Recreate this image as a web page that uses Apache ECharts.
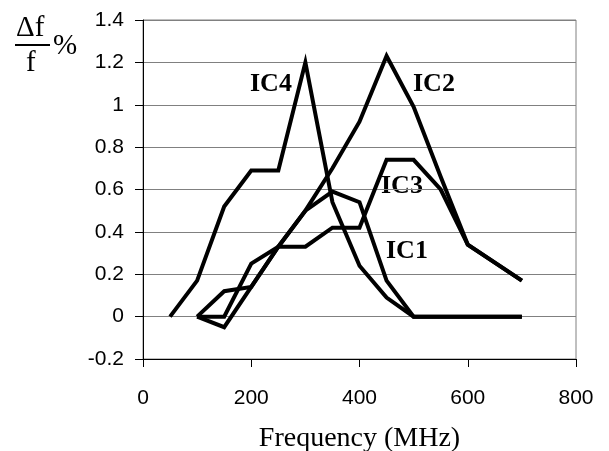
<!DOCTYPE html>
<html>
<head>
<meta charset="utf-8">
<script src="https://cdn.jsdelivr.net/npm/echarts@6/dist/echarts.min.js"></script>
<style>html,body{margin:0;padding:0;background:#fff;}#c{width:609px;height:451px;}</style>
</head>
<body>
<div id="c"></div>
<script>
var freq = [50,100,150,200,250,300,350,400,450,500,550,600,650,700];
var ic1 = [null,0,-0.05,0.14,0.33,0.5,0.59,0.54,0.17,0,0,0,0,0];
var ic2 = [null,0,0.12,0.14,0.33,0.5,0.7,0.92,1.23,0.99,0.66,0.34,0.255,0.17];
var ic3 = [null,0,0,0.25,0.33,0.33,0.42,0.42,0.74,0.74,0.6,0.34,0.255,0.17];
var ic4 = [0,0.17,0.52,0.69,0.69,1.2,0.54,0.24,0.09,0,0,0,0,0];
var seriesNames = ['IC1','IC2','IC3','IC4'];
var seriesVals = [ic1,ic2,ic3,ic4];
var xTicks = {min:0,max:800,interval:200};
var yTicks = {min:-0.2,max:1.4,interval:0.2};

function pairs(vals){
  var out=[];
  for(var i=0;i<freq.length;i++){ if(vals[i]!==null) out.push([freq[i],vals[i]]); }
  return out;
}
var chart = echarts.init(document.getElementById('c'));
var serif = 'Liberation Serif';
var sans = 'Liberation Sans';
chart.setOption({
  animation:false,
  grid:{left:143,right:33,top:20,bottom:92,show:true,borderColor:'#808080',borderWidth:1,
    containLabel:false,outerBoundsMode:'none'},
  xAxis:{type:'value',min:xTicks.min,max:xTicks.max,interval:xTicks.interval,
    axisLine:{show:true,onZero:false,lineStyle:{color:'#000',width:1}},
    axisTick:{show:true,inside:false,length:8,lineStyle:{color:'#000'}},
    axisLabel:{color:'#000',fontFamily:sans,fontSize:21,margin:29},
    splitLine:{show:false},
    name:'Frequency (MHz)',nameLocation:'middle',nameGap:66,
    nameTextStyle:{color:'#000',fontFamily:serif,fontSize:28}},
  yAxis:{type:'value',min:yTicks.min,max:yTicks.max,interval:yTicks.interval,
    axisLine:{show:true,onZero:false,lineStyle:{color:'#000',width:1}},
    axisTick:{show:true,inside:false,length:8,lineStyle:{color:'#000'}},
    axisLabel:{color:'#000',fontFamily:sans,fontSize:21,margin:19,
      formatter:function(v){return String(+v.toFixed(1));}},
    splitLine:{show:true,lineStyle:{color:'#808080',width:1}}},
  series:seriesVals.map(function(v,i){
    return {name:seriesNames[i],type:'line',data:pairs(v),symbol:'none',
      lineStyle:{color:'#000',width:4,join:'miter'},z:3+i};
  }),
  graphic:[
    {type:'text',left:250,top:71,style:{text:'IC4',fontFamily:serif,fontWeight:'bold',fontSize:26,fill:'#000'}},
    {type:'text',left:413,top:71,style:{text:'IC2',fontFamily:serif,fontWeight:'bold',fontSize:26,fill:'#000'}},
    {type:'text',left:381,top:173,style:{text:'IC3',fontFamily:serif,fontWeight:'bold',fontSize:26,fill:'#000'}},
    {type:'text',left:386,top:238,style:{text:'IC1',fontFamily:serif,fontWeight:'bold',fontSize:26,fill:'#000'}},
    {type:'text',left:16,top:14,style:{text:'\u0394f',fontFamily:serif,fontSize:29,fill:'#000'}},
    {type:'line',shape:{x1:15,y1:45,x2:50,y2:45},style:{stroke:'#000',lineWidth:2}},
    {type:'text',left:26,top:49,style:{text:'f',fontFamily:serif,fontSize:29,fill:'#000'}},
    {type:'text',left:53,top:32,style:{text:'%',fontFamily:serif,fontSize:29,fill:'#000'}}
  ]
});
</script>
</body>
</html>
